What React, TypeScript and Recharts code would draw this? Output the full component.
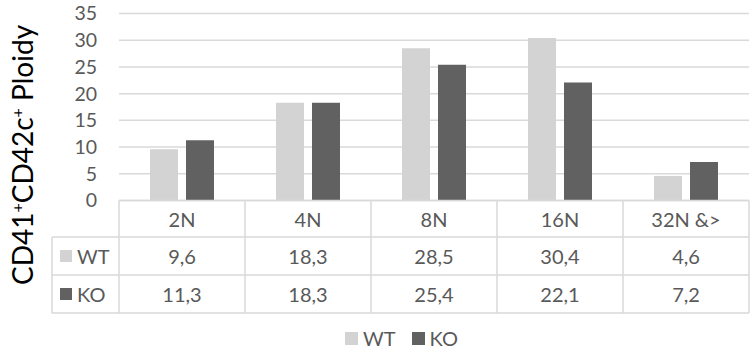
import React from 'react';
import { BarChart, Bar, XAxis, YAxis, CartesianGrid, Legend } from 'recharts';

// ── data ─────────────────────────────────────────────
const categories = ['2N', '4N', '8N', '16N', '32N &>'];
const wtValues = [9.6, 18.3, 28.5, 30.4, 4.6];
const koValues = [11.3, 18.3, 25.4, 22.1, 7.2];
const yTicks = [0, 5, 10, 15, 20, 25, 30, 35];

const data = categories.map((name, i) => ({ name, WT: wtValues[i], KO: koValues[i] }));

// ── layout ───────────────────────────────────────────
const W = 753;
const H = 356;
const PLOT_L = 119;
const PLOT_R = 749;
const PLOT_T = 13.5;
const PLOT_B = 200.5;
const ROW1 = 237;
const ROW2 = 275;
const TABLE_B = 313;
const KEY_L = 52;
const LEGEND_H = 20;

const WT_COLOR = '#d3d3d3';
const KO_COLOR = '#616161';
const TEXT = '#595959';
const LINE = '#d9d9d9';
const FONT = 'Lato, "Open Sans", sans-serif';

const fmt = (v: number) => v.toFixed(1).replace('.', ',');

// data table drawn as the x axis ticks
const TableTick = (props: any) => {
  const { x, payload } = props;
  const i = categories.indexOf(payload.value);
  const band = (PLOT_R - PLOT_L) / categories.length;
  const left = x - band / 2;
  const right = x + band / 2;
  const txt = { fill: TEXT, fontSize: 20, fontFamily: FONT, textAnchor: 'middle' as const, dominantBaseline: 'central' as const };
  return (
    <g>
      <g stroke={LINE} strokeWidth={1.5}>
        <line x1={left} y1={PLOT_B} x2={right} y2={PLOT_B} />
        <line x1={left} y1={ROW1} x2={right} y2={ROW1} />
        <line x1={left} y1={ROW2} x2={right} y2={ROW2} />
        <line x1={left} y1={TABLE_B} x2={right} y2={TABLE_B} />
        <line x1={right} y1={PLOT_B} x2={right} y2={TABLE_B} />
        {i === 0 && (
          <>
            <line x1={left} y1={PLOT_B} x2={left} y2={TABLE_B} />
            <line x1={KEY_L} y1={ROW1} x2={left} y2={ROW1} />
            <line x1={KEY_L} y1={ROW2} x2={left} y2={ROW2} />
            <line x1={KEY_L} y1={TABLE_B} x2={left} y2={TABLE_B} />
            <line x1={KEY_L} y1={ROW1} x2={KEY_L} y2={TABLE_B} />
          </>
        )}
      </g>
      <text x={x} y={(PLOT_B + ROW1) / 2} {...txt}>{payload.value}</text>
      <text x={x} y={(ROW1 + ROW2) / 2} {...txt}>{fmt(wtValues[i])}</text>
      <text x={x} y={(ROW2 + TABLE_B) / 2} {...txt}>{fmt(koValues[i])}</text>
      {i === 0 && (
        <>
          <rect x={60} y={(ROW1 + ROW2) / 2 - 6} width={12} height={12} fill={WT_COLOR} />
          <text x={77} y={(ROW1 + ROW2) / 2} {...txt} textAnchor="start">WT</text>
          <rect x={60} y={(ROW2 + TABLE_B) / 2 - 6} width={12} height={12} fill={KO_COLOR} />
          <text x={77} y={(ROW2 + TABLE_B) / 2} {...txt} textAnchor="start">KO</text>
        </>
      )}
    </g>
  );
};

const YTitle = () => (
  <text
    x={0}
    y={0}
    transform="translate(33, 155) rotate(-90)"
    textAnchor="middle"
    fill="#000"
    fontSize={28}
    fontFamily={FONT}
  >
    CD41<tspan dy={-10} fontSize={16}>+</tspan>
    <tspan dy={10}>CD42c</tspan>
    <tspan dy={-10} fontSize={16}>+</tspan>
    <tspan dy={10}> Ploidy</tspan>
  </text>
);

const LegendContent = () => (
  <div
    style={{
      display: 'flex',
      justifyContent: 'center',
      alignItems: 'center',
      height: LEGEND_H,
      paddingLeft: 50,
      fontFamily: FONT,
      fontSize: 20,
      color: TEXT,
    }}
  >
    {[
      { name: 'WT', color: WT_COLOR },
      { name: 'KO', color: KO_COLOR },
    ].map((it) => (
      <span key={it.name} style={{ display: 'flex', alignItems: 'center', margin: '0 8px' }}>
        <span style={{ width: 13, height: 13, background: it.color, marginRight: 5, display: 'inline-block' }} />
        {it.name}
      </span>
    ))}
  </div>
);

export default function App() {
  return (
    <div style={{ position: 'absolute', left: 0, top: 0, width: W, height: H, background: '#fff' }}>
      <BarChart
        width={W}
        height={H}
        data={data}
        barSize={28}
        barGap={8}
        margin={{ top: PLOT_T, right: W - PLOT_R, left: PLOT_L - 40, bottom: H - TABLE_B - LEGEND_H }}
      >
        <CartesianGrid vertical={false} stroke={LINE} strokeWidth={1.5} />
        <XAxis
          dataKey="name"
          height={TABLE_B - PLOT_B}
          axisLine={false}
          tickLine={false}
          interval={0}
          tick={<TableTick />}
        />
        <YAxis
          width={40}
          domain={[0, 35]}
          ticks={yTicks}
          interval={0}
          axisLine={false}
          tickLine={false}
          tickSize={6}
          tickMargin={16}
          tick={{ fill: TEXT, fontSize: 19.5, fontFamily: FONT }}
          label={<YTitle />}
        />
        <Legend verticalAlign="bottom" height={LEGEND_H} wrapperStyle={{ top: 328, left: 0, width: W }} content={<LegendContent />} />
        <Bar dataKey="WT" fill={WT_COLOR} isAnimationActive={false} />
        <Bar dataKey="KO" fill={KO_COLOR} isAnimationActive={false} />
      </BarChart>
    </div>
  );
}
